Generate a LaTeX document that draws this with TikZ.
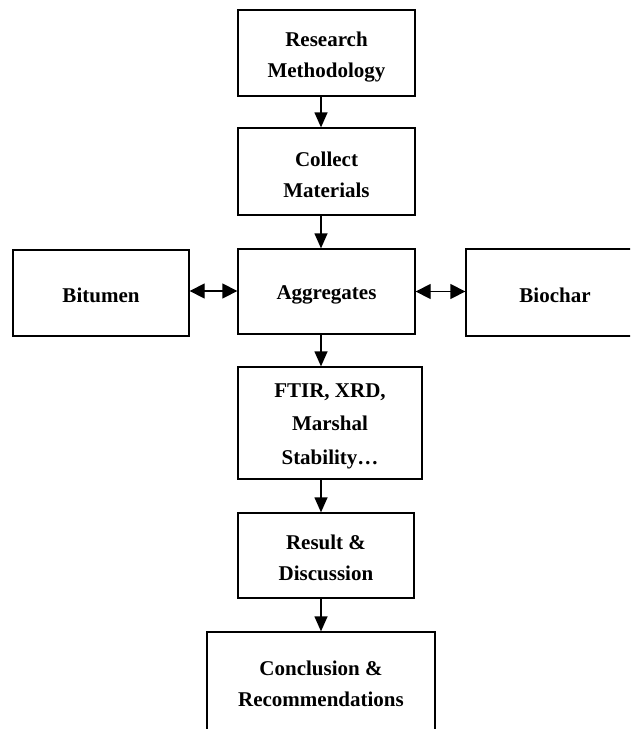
\documentclass[tikz,border=0pt]{standalone}
\usepackage{fontspec}
\setmainfont{Liberation Serif}
\usetikzlibrary{arrows.meta}
\begin{document}
\begin{tikzpicture}[x=1pt,y=-1pt,
  box/.style={draw, line width=1.3pt, rectangle, inner sep=0pt},
  txt/.style={align=center, inner sep=0pt,
    font=\fontsize{21}{31}\selectfont\bfseries},
  arr/.style={line width=1.3pt, -{Triangle[length=15pt,width=13pt]}},
  darr/.style={line width=1.3pt, {Triangle[length=15pt,width=15pt]}-{Triangle[length=15pt,width=15pt]}}]
\useasboundingbox (0,0) rectangle (630,729);
\clip (0,0) rectangle (630,729);
\coordinate (ax) at (321,0);
\node[box, minimum width=177pt, minimum height=86pt,
  label={[txt,yshift=-4.5pt]center:Research\\Methodology}] (res) at (326.5,53) {};
\node[box, minimum width=177pt, minimum height=87pt,
  label={[txt,yshift=-3.5pt]center:Collect\\Materials}] (col) at (326.5,171.5) {};
\node[box, minimum width=177pt, minimum height=85pt,
  label={[txt,yshift=-3.5pt]center:Aggregates}] (agg) at (326.5,291.5) {};
\node[box, minimum width=176pt, minimum height=86pt,
  label={[txt,yshift=-2pt]center:Bitumen}] (bit) at (101,293) {};
\node[box, minimum width=178pt, minimum height=87pt,
  label={[txt,yshift=-3pt]center:Biochar}] (bio) at (555,292.5) {};
\node[box, minimum width=184pt, minimum height=112pt,
  label={[txt,font=\fontsize{21}{33.5}\selectfont\bfseries,yshift=-3pt]center:FTIR, XRD,\\Marshal\\Stability…}] (ftir) at (330,423) {};
\node[box, minimum width=176pt, minimum height=85pt,
  label={[txt,yshift=-2.5pt]center:Result \&\\Discussion}] (rd) at (326,555.5) {};
\node[box, minimum width=228pt, minimum height=104pt,
  label={[txt]center:Conclusion \&\\Recommendations}] (con) at (321,684) {};
\draw[arr] (res.south -| ax) -- (col.north -| ax);
\draw[arr] (col.south -| ax) -- (agg.north -| ax);
\draw[arr] (agg.south -| ax) -- (ftir.north -| ax);
\draw[arr] (ftir.south -| ax) -- (rd.north -| ax);
\draw[arr] (rd.south -| ax) -- (con.north -| ax);
\draw[darr] ([yshift=2pt]bit.east) -- ([yshift=2pt]bit.east -| agg.west);
\draw[darr] (agg.east) -- (agg.east -| bio.west);
\end{tikzpicture}
\end{document}
